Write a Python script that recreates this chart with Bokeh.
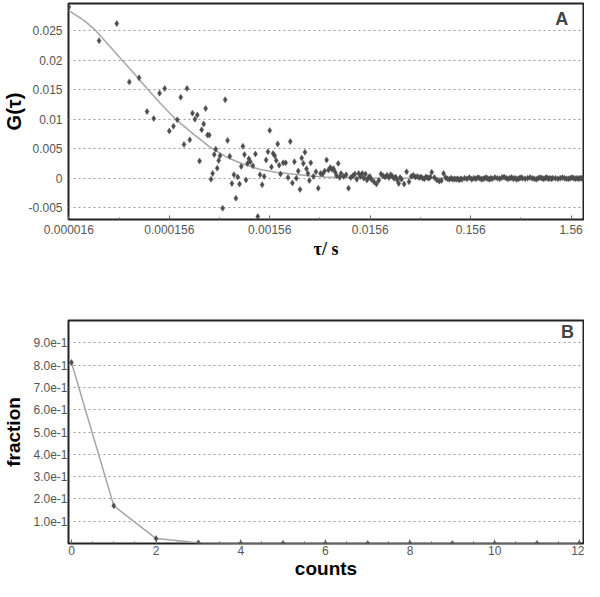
from bokeh.plotting import figure
from bokeh.layouts import column
from bokeh.models import FixedTicker, Range1d, Label
from bokeh.embed import file_html
from bokeh.resources import INLINE

# ---------------- data: panel A (autocorrelation) ----------------
TAU_BASE = 1.5625e-5  # s, correlator base lag time

lag_channels = [
    1, 2, 3, 4, 5, 6, 7, 8, 9, 10, 11, 12, 13, 14, 15, 16,
    17, 18, 19, 20, 21, 22, 23, 24, 25, 26, 27, 28, 29, 30, 31, 32,
    34, 36, 38, 40, 42, 44, 46, 48, 50, 52, 54, 56, 58, 60, 62, 64,
    68, 72, 76, 80, 84, 88, 92, 96, 100, 104, 108, 112, 116, 120, 124, 128,
    136, 144, 152, 160, 168, 176, 184, 192, 200, 208, 216, 224, 232, 240, 248, 256,
    272, 288, 304, 320, 336, 352, 368, 384, 400, 416, 432, 448, 464, 480, 496, 512,
    544, 576, 608, 640, 672, 704, 736, 768, 800, 832, 864, 896, 928, 960, 992, 1024,
    1088, 1152, 1216, 1280, 1344, 1408, 1472, 1536, 1600, 1664, 1728, 1792, 1856, 1920, 1984, 2048,
    2176, 2304, 2432, 2560, 2688, 2816, 2944, 3072, 3200, 3328, 3456, 3584, 3712, 3840, 3968, 4096,
    4352, 4608, 4864, 5120, 5376, 5632, 5888, 6144, 6400, 6656, 6912, 7168, 7424, 7680, 7936, 8192,
    8704, 9216, 9728, 10240, 10752, 11264, 11776, 12288, 12800, 13312, 13824, 14336, 14848, 15360, 15872, 16384,
    17408, 18432, 19456, 20480, 21504, 22528, 23552, 24576, 25600, 26624, 27648, 28672, 29696, 30720, 31744, 32768,
    34816, 36864, 38912, 40960, 43008, 45056, 47104, 49152, 51200, 53248, 55296, 57344, 59392, 61440, 63488, 65536,
    69632, 73728, 77824, 81920, 86016, 90112, 94208, 98304, 102400, 106496, 110592, 114688, 118784, 122880, 126976, 131072,
]

g_values = [
    0.0290, 0.0233, 0.0262, 0.0163, 0.0170, 0.0113, 0.0101, 0.0144, 0.0152, 0.0080, 0.0088, 0.0099, 0.0137, 0.0057, 0.0152, 0.0065,
    0.0110, 0.0100, 0.0107, 0.0029, 0.0082, 0.0092, 0.0118, 0.0073, 0.0073, -0.0002, 0.0008, 0.0040, 0.0049, 0.0017, 0.0030, 0.0038,
    -0.0051, 0.0133, 0.0064, 0.0037, -0.0009, 0.0006, -0.0034, 0.0002, -0.0010, 0.0020, 0.0054, 0.0040, -0.0003, 0.0025, 0.0033, 0.0028,
    0.0021, 0.0041, -0.0065, 0.0006, -0.0011, 0.0003, 0.0031, 0.0045, 0.0081, 0.0019, 0.0042, 0.0038, 0.0030, 0.0058, 0.0022, 0.0007,
    0.0026, 0.0026, 0.0001, 0.0062, -0.0008, 0.0028, 0.0000, 0.0012, -0.0019, 0.0034, 0.0025, 0.0044, 0.0016, 0.0008, -0.0004, 0.0026,
    0.0003, 0.0011, -0.0017, 0.0008, 0.0007, 0.0012, 0.0031, 0.0014, 0.0018, 0.0015, 0.0016, 0.0010, 0.0004, 0.0025, 0.0001, 0.0008,
    0.0003, 0.0006, -0.0017, 0.0001, 0.0004, 0.0007, -0.0002, 0.0008, 0.0003, 0.0008, 0.0000, 0.0007, -0.0003, 0.0001, 0.0003, -0.0002,
    -0.0006, -0.0010, -0.0004, 0.0007, 0.0004, 0.0002, 0.0005, 0.0001, 0.0006, 0.0003, 0.0000, 0.0002, -0.0003, -0.0009, 0.0001, -0.0002,
    -0.0010, 0.0011, -0.0006, 0.0003, 0.0005, 0.0002, 0.0003, 0.0001, 0.0002, 0.0000, -0.0001, 0.0002, 0.0001, 0.0000, 0.0002, 0.0010,
    0.0001, -0.0003, -0.0005, -0.0004, 0.0008, 0.0001, -0.0001, -0.0002, 0.0000, -0.0002, -0.0001, -0.0002, -0.0001, -0.0003, -0.0001, -0.0002,
    0.0000, -0.0001, 0.0001, -0.0002, 0.0000, -0.0001, 0.0001, 0.0000, -0.0002, -0.0001, 0.0000, 0.0001, -0.0001, -0.0002, 0.0000, -0.0001,
    0.0001, 0.0000, -0.0001, 0.0001, 0.0002, 0.0000, -0.0001, 0.0000, 0.0001, -0.0001, 0.0000, -0.0002, -0.0001, 0.0000, 0.0001, 0.0000,
    -0.0001, 0.0000, 0.0001, 0.0000, -0.0001, -0.0002, 0.0000, 0.0001, 0.0000, -0.0001, 0.0000, 0.0001, -0.0001, 0.0000, -0.0001, 0.0000,
    0.0000, -0.0001, 0.0000, 0.0001, 0.0000, -0.0001, -0.0001, 0.0000, 0.0001, 0.0000, -0.0001, 0.0000, -0.0001, 0.0000, 0.0000, -0.0001,
]

fit_tau = [1.5625e-5, 2.23e-5, 2.90e-5, 3.79e-5, 5.12e-5, 6.94e-5, 9.38e-5, 1.27e-4, 1.78e-4,
           2.70e-4, 3.94e-4, 5.76e-4, 8.41e-4, 1.23e-3, 1.79e-3, 2.61e-3, 3.78e-3, 5.57e-3,
           1.0e-2, 2.0e-2, 0.1, 2.048]
fit_g = [0.0284, 0.0267, 0.0250, 0.0228, 0.0203, 0.0178, 0.0152, 0.0127, 0.0101,
         0.0075, 0.0053, 0.0036, 0.0024, 0.0015, 0.0010, 0.0007, 0.0004, 0.0002,
         0.0001, 0.0000, 0.0000, 0.0000]

tau_ticks = [1.5625e-5, 1.5625e-4, 1.5625e-3, 1.5625e-2, 0.15625, 1.5625]
tau_tick_labels = ["0.000016", "0.000156", "0.00156", "0.0156", "0.156", "1.56"]
tau_minor_ticks = [4.94e-5, 4.94e-4, 4.94e-3, 4.94e-2, 0.494]
g_ticks = [-0.005, 0.0, 0.005, 0.01, 0.015, 0.02, 0.025]
g_tick_labels = ["-0.005", "0", "0.005", "0.01", "0.015", "0.02", "0.025"]

# ---------------- data: panel B (photon counting histogram) ----------------
counts = [0, 1, 2, 3, 4, 5, 6, 7, 8, 9, 10, 11, 12]
fraction = [0.812, 0.169, 0.022, 0.003, 0.0004, 0.0001, 0.0, 0.0, 0.0, 0.0, 0.0, 0.0, 0.0]
frac_ticks = [0.1, 0.2, 0.3, 0.4, 0.5, 0.6, 0.7, 0.8, 0.9]
frac_tick_labels = ["1.0e-1", "2.0e-1", "3.0e-1", "4.0e-1", "5.0e-1",
                    "6.0e-1", "7.0e-1", "8.0e-1", "9.0e-1"]
count_ticks = [0, 2, 4, 6, 8, 10, 12]
count_minor_ticks = [0.5, 1, 1.5, 2.5, 3, 3.5, 4.5, 5, 5.5, 6.5, 7, 7.5, 8.5, 9, 9.5, 10.5, 11, 11.5]

assert len(lag_channels) == len(g_values)
tau = [c * TAU_BASE for c in lag_channels]

SANS = "Liberation Sans"
TICK_COLOR = "#555555"
DOT_COLOR = "#4d4d4d"
LINE_COLOR = "#a6a6a6"


def style(p):
    p.outline_line_color = "#222222"
    p.outline_line_width = 2
    p.background_fill_color = "white"
    p.border_fill_color = "white"
    p.xgrid.grid_line_color = None
    p.ygrid.grid_line_color = "#9a9a9a"
    p.ygrid.grid_line_dash = "2 3"
    p.ygrid.grid_line_width = 1
    for ax in (p.xaxis[0], p.yaxis[0]):
        ax.axis_line_color = None
        ax.major_label_text_font = SANS
        ax.major_label_text_font_size = "12px"
        ax.major_label_text_color = TICK_COLOR
        ax.axis_label_text_font = SANS
        ax.axis_label_text_font_style = "bold"
        ax.axis_label_text_font_size = "19px"
        ax.axis_label_text_color = "black"
    p.yaxis.major_tick_line_color = None
    p.yaxis.minor_tick_line_color = None
    p.yaxis.major_tick_out = 0
    p.yaxis.major_tick_in = 0
    p.yaxis.minor_tick_out = 0
    p.yaxis.minor_tick_in = 0
    p.xaxis.major_tick_in = 4
    p.xaxis.major_tick_out = 0
    p.xaxis.minor_tick_in = 2
    p.xaxis.minor_tick_out = 0
    p.xaxis.major_tick_line_color = "#666666"
    p.xaxis.minor_tick_line_color = "#666666"


# ---------------- panel A ----------------
pA = figure(width=584, height=292, x_axis_type="log",
            x_range=Range1d(1.55e-5, 2.075), y_range=Range1d(-0.0070, 0.0296),
            output_backend="svg", toolbar_location=None,
            min_border_left=64, min_border_right=1, min_border_top=3, min_border_bottom=73)
style(pA)
pA.xaxis.ticker = FixedTicker(ticks=tau_ticks, minor_ticks=tau_minor_ticks)
pA.xaxis.major_label_overrides = dict(zip(tau_ticks, tau_tick_labels))
pA.yaxis.ticker = FixedTicker(ticks=g_ticks)
pA.yaxis.major_label_overrides = dict(zip(g_ticks, g_tick_labels))
pA.xaxis.major_label_standoff = 5
pA.yaxis.major_label_standoff = 6
pA.yaxis.axis_label = "G(τ)"
pA.yaxis.axis_label_text_font_size = "20px"
pA.yaxis.axis_label_standoff = 0
pA.xaxis.axis_label = "τ/ s"
pA.xaxis.axis_label_text_font = "Liberation Serif"
pA.xaxis.axis_label_text_font_size = "18px"
pA.xaxis.axis_label_standoff = 2

pA.line(fit_tau, fit_g, line_color=LINE_COLOR, line_width=1.5)
pA.scatter(tau, g_values, marker="diamond", size=6, fill_color=DOT_COLOR,
           line_color=DOT_COLOR, line_width=0.5)
pA.add_layout(Label(x=1.26, y=0.0269, text="A", text_font=SANS, text_font_style="bold",
                    text_font_size="18px", text_align="center", text_baseline="middle"))

# ---------------- panel B ----------------
pB = figure(width=584, height=289,
            x_range=Range1d(-0.07, 12.1), y_range=Range1d(0.0, 1.0),
            output_backend="svg", toolbar_location=None,
            min_border_left=67, min_border_right=1, min_border_top=28, min_border_bottom=38)
style(pB)
pB.xaxis.ticker = FixedTicker(ticks=count_ticks, minor_ticks=count_minor_ticks)
pB.yaxis.ticker = FixedTicker(ticks=frac_ticks)
pB.yaxis.major_label_overrides = dict(zip(frac_ticks, frac_tick_labels))
pB.xaxis.major_label_standoff = 2
pB.yaxis.major_label_standoff = 1
pB.yaxis.axis_label = "fraction"
pB.yaxis.axis_label_standoff = 6
pB.xaxis.axis_label = "counts"
pB.xaxis.axis_label_standoff = 0

pB.line(counts, fraction, line_color=LINE_COLOR, line_width=1.5)
pB.scatter(counts, fraction, marker="diamond", size=6, fill_color=DOT_COLOR,
           line_color=DOT_COLOR, line_width=0.5)
pB.add_layout(Label(x=11.72, y=0.947, text="B", text_font=SANS, text_font_style="bold",
                    text_font_size="18px", text_align="center", text_baseline="middle"))

layout = column(pA, pB)
open("out.html", "w").write(file_html(layout, INLINE))
